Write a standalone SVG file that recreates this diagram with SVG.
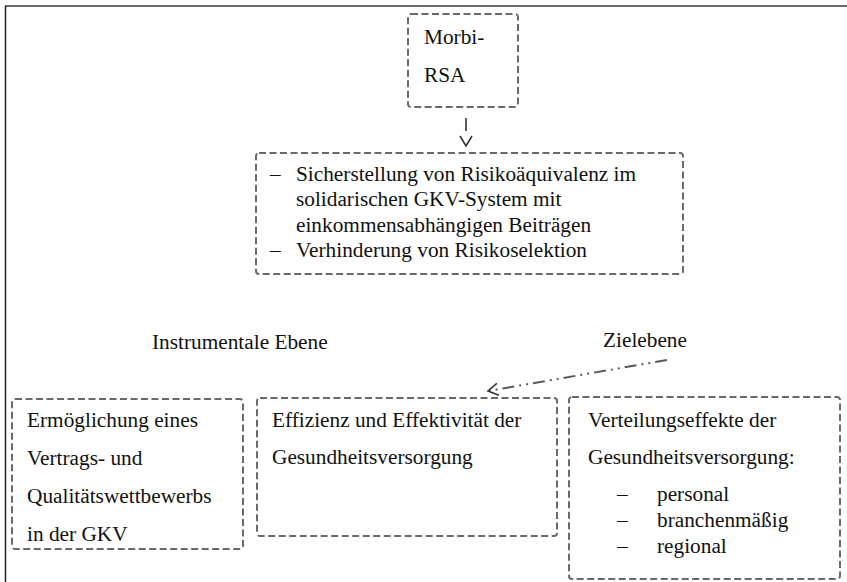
<svg xmlns="http://www.w3.org/2000/svg" width="847" height="582" viewBox="0 0 847 582">
<style>
text{font-family:"Liberation Serif","Times New Roman",serif;font-size:21.3px;fill:#111}
.box{fill:none;stroke:#6a6a6a;stroke-width:2;stroke-dasharray:7 3.5}
.frame-top{stroke:#6a6a6a;stroke-width:2}
.frame-left{stroke:#222;stroke-width:1.5}
.conn{fill:none;stroke:#5a5a5a;stroke-width:2}
</style>
<defs>
<marker id="openArrow" markerWidth="14" markerHeight="14" refX="11" refY="7" orient="auto" markerUnits="userSpaceOnUse">
<path d="M1,1 L11,7 L1,13" fill="none" stroke="#333" stroke-width="1.6"/>
</marker>
</defs>
<rect width="847" height="582" fill="#fff"/>
<line class="frame-top" x1="5" y1="6" x2="847" y2="6"/>
<line class="frame-left" x1="5.5" y1="6" x2="5.5" y2="582"/>

<g id="connectors">
<line class="conn" x1="466" y1="118" x2="466" y2="146" stroke-dasharray="13 20" marker-end="url(#openArrow)"/>
<line class="conn" x1="667" y1="360" x2="488" y2="391" stroke-dasharray="12 5 2 5 2 5" marker-end="url(#openArrow)"/>
</g>

<g id="morbi-rsa">
<rect class="box" x="408" y="14" width="110" height="93" rx="3"/>
<text x="424" y="44">Morbi-</text>
<text x="424" y="82">RSA</text>
</g>

<g id="ziele-box">
<rect class="box" x="256" y="153" width="427" height="121" rx="3"/>
<text x="270" y="181">–</text>
<text x="296" y="181">Sicherstellung von Risikoäquivalenz im</text>
<text x="296" y="206">solidarischen GKV-System mit</text>
<text x="296" y="232">einkommensabhängigen Beiträgen</text>
<text x="270" y="257">–</text>
<text x="296" y="257">Verhinderung von Risikoselektion</text>
</g>

<g id="label-instrumentale">
<text x="152" y="349">Instrumentale Ebene</text>
</g>

<g id="label-zielebene">
<text x="603" y="347">Zielebene</text>
</g>

<g id="wettbewerb">
<rect class="box" x="12" y="399" width="231" height="150" rx="3"/>
<text x="27" y="427">Ermöglichung eines</text>
<text x="27" y="465">Vertrags- und</text>
<text x="27" y="503">Qualitätswettbewerbs</text>
<text x="27" y="541">in der GKV</text>
</g>

<g id="effizienz">
<rect class="box" x="257" y="398" width="300" height="138" rx="3"/>
<text x="272" y="427">Effizienz und Effektivität der</text>
<text x="272" y="464">Gesundheitsversorgung</text>
</g>

<g id="verteilung">
<rect class="box" x="569" y="397" width="271" height="182" rx="3"/>
<text x="588" y="427">Verteilungseffekte der</text>
<text x="588" y="464">Gesundheitsversorgung:</text>
<text x="617" y="501">–</text>
<text x="657" y="501">personal</text>
<text x="617" y="527">–</text>
<text x="657" y="527">branchenmäßig</text>
<text x="617" y="553">–</text>
<text x="657" y="553">regional</text>
</g>
</svg>
